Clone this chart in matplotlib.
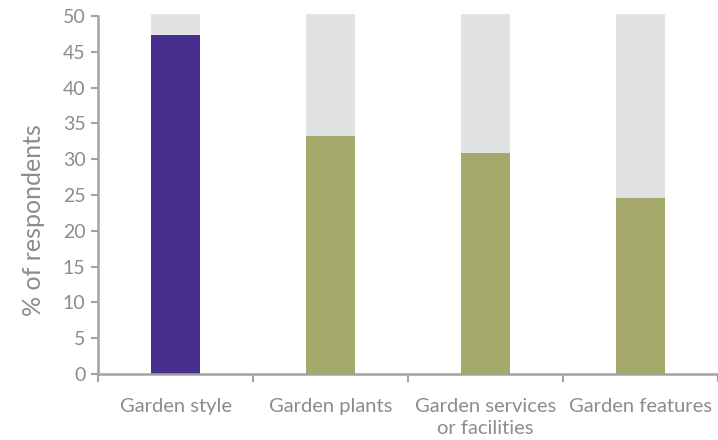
import numpy as np
import matplotlib.pyplot as plt

# data
categories = ['Garden style', 'Garden plants', 'Garden services\nor facilities', 'Garden features']
values = [47.3, 33.2, 30.9, 24.6]
bar_colors = ['#482E8C', '#A5A86B', '#A5A86B', '#A5A86B']
background = [50.3, 50.3, 50.3, 50.3]

txt = '#8C8C8C'
axc = '#A3A3A3'
plt.rcParams['font.family'] = ['Lato', 'DejaVu Sans']

fig = plt.figure(figsize=(7.18, 4.4), dpi=100)
ax = fig.add_axes([0.1365, 0.15, 0.8635, 0.8136])

x = np.arange(len(categories))
ax.bar(x, background, width=0.32, color='#E1E2E4', clip_on=False, zorder=1)
ax.bar(x, values, width=0.32, color=bar_colors, zorder=2)

ax.set_xlim(-0.5, len(categories) - 0.5)
ax.set_ylim(0, 50)
ax.set_yticks(range(0, 51, 5))
ax.set_xticks(x)
ax.set_xticklabels(categories, linespacing=1.35, va='top')
ax.set_xticks(np.arange(-0.5, len(categories)), minor=True)

ax.tick_params(axis='x', which='major', length=0, pad=17, labelsize=14.5, colors=txt)
ax.tick_params(axis='x', which='minor', length=6, width=1.5, color=axc, direction='out')
ax.tick_params(axis='y', length=5, width=1.5, color=axc, labelsize=14, labelcolor=txt, pad=4)

for s in ['top', 'right']:
    ax.spines[s].set_visible(False)
for s in ['left', 'bottom']:
    ax.spines[s].set_color(axc)
    ax.spines[s].set_linewidth(1.8)

ax.set_ylabel('% of respondents', fontsize=18, color=txt)
ax.yaxis.set_label_coords(-0.085, 0.43)

fig.savefig('out.png', dpi=100)
